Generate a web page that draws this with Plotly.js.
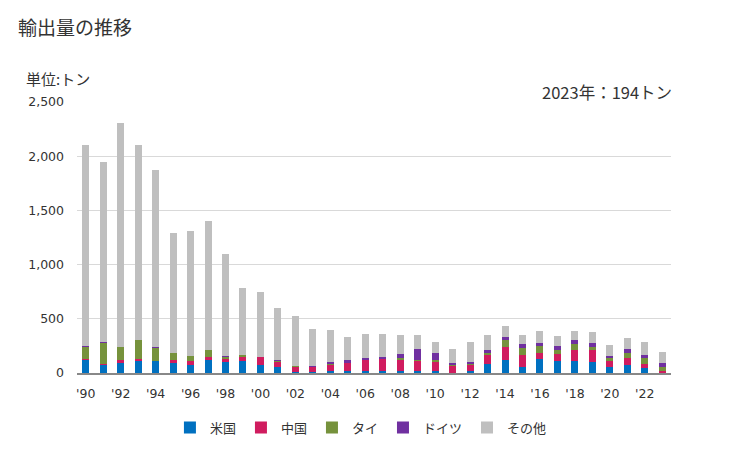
<!DOCTYPE html>
<html><head><meta charset="utf-8">
<script src="https://cdn.plot.ly/plotly-3.0.1.min.js"></script>
<style>body{margin:0;padding:0;background:#fff}#chart{width:729px;height:450px}</style>
</head><body><div id="chart"></div>
<script>
const years = [1990,1991,1992,1993,1994,1995,1996,1997,1998,1999,2000,2001,2002,2003,2004,2005,2006,2007,2008,2009,2010,2011,2012,2013,2014,2015,2016,2017,2018,2019,2020,2021,2022,2023];
const usa     = [117,77,96,114,108,96,77,124,105,108,71,52,6,6,15,15,22,15,15,22,15,3,22,87,124,59,133,111,111,102,56,74,46,2];
const china   = [10,9,28,19,6,28,37,28,28,37,74,46,46,46,56,74,96,111,108,93,90,65,56,83,120,111,56,65,102,111,56,65,37,12];
const thai    = [117,195,120,167,120,65,46,56,19,25,6,12,9,6,15,6,6,6,19,9,19,9,9,19,56,65,56,37,56,28,28,46,56,43];
const germany = [9,9,0,9,9,0,0,0,9,0,0,6,0,9,12,22,19,19,37,93,56,19,19,19,28,28,28,37,37,37,19,37,28,37];
const other   = [1847,1660,2066,1791,1632,1105,1153,1197,939,617,599,486,467,341,302,218,220,212,176,129,110,130,184,138,102,92,119,93,83,102,101,102,120,100];
const tickVals = [1990,1992,1994,1996,1998,2000,2002,2004,2006,2008,2010,2012,2014,2016,2018,2020,2022];
const tickText = ["'90","'92","'94","'96","'98","'00","'02","'04","'06","'08","'10","'12","'14","'16","'18","'20","'22"];
const seriesNames = ["米国","中国","タイ","ドイツ","その他"];
const seriesColors = ["#0070c0","#d01c5f","#76923c","#7030a0","#bfbfbf"];
const seriesData = [usa, china, thai, germany, other];

const font = '"Noto Sans CJK JP", "Noto Sans", sans-serif';
const numFont = '"DejaVu Sans", sans-serif';
const traces = seriesData.map((d, i) => ({
  type: 'bar', x: years, y: d, name: seriesNames[i],
  marker: {color: seriesColors[i], line: {width: 0}},
  hoverinfo: 'x+y+name'
}));

const layout = {
  width: 729, height: 450,
  barmode: 'stack', bargap: 0.6,
  margin: {l: 77, r: 58, t: 102, b: 77, autoexpand: false},
  paper_bgcolor: '#fff', plot_bgcolor: '#fff',
  font: {family: font, color: '#333', size: 12},
  showlegend: true,
  legend: {orientation: 'h', x: 0.478, xanchor: 'center', yref: 'container', y: 0.05, yanchor: 'middle',
           font: {size: 13, color: '#333'}, traceorder: 'normal', itemwidth: 30},
  xaxis: {
    range: [1989.5, 2023.5], tickvals: tickVals, ticktext: tickText,
    showgrid: false, showline: true, linecolor: '#888', linewidth: 1.5,
    ticks: '', ticklabelstandoff: 8, tickfont: {size: 12.5, color: '#333', family: numFont}, fixedrange: true
  },
  yaxis: {
    range: [0, 2500], dtick: 500, tickformat: ',d',
    showgrid: true, gridcolor: '#d9d9d9', gridwidth: 1,
    zeroline: false, showline: false, ticks: '', ticklabelstandoff: 12,
    tickfont: {size: 12.5, color: '#333', family: numFont}, fixedrange: true
  },
  annotations: [
    {text: '輸出量の推移', xref: 'paper', yref: 'paper', x: -0.1027, y: 1.2768, xanchor: 'left', yanchor: 'middle',
     showarrow: false, font: {size: 19, color: '#333', family: font}},
    {text: '単位:トン', xref: 'paper', yref: 'paper', x: -0.0892, y: 1.085, xanchor: 'left', yanchor: 'middle',
     showarrow: false, font: {size: 15, color: '#333', family: font}},
    {text: '2023年：194トン', xref: 'paper', yref: 'paper', x: 1.005, y: 1.037, xanchor: 'right', yanchor: 'middle',
     showarrow: false, font: {size: 16.5, color: '#333', family: font}}
  ]
};
Plotly.newPlot('chart', traces, layout, {displayModeBar: false, staticPlot: true});
</script></body></html>
